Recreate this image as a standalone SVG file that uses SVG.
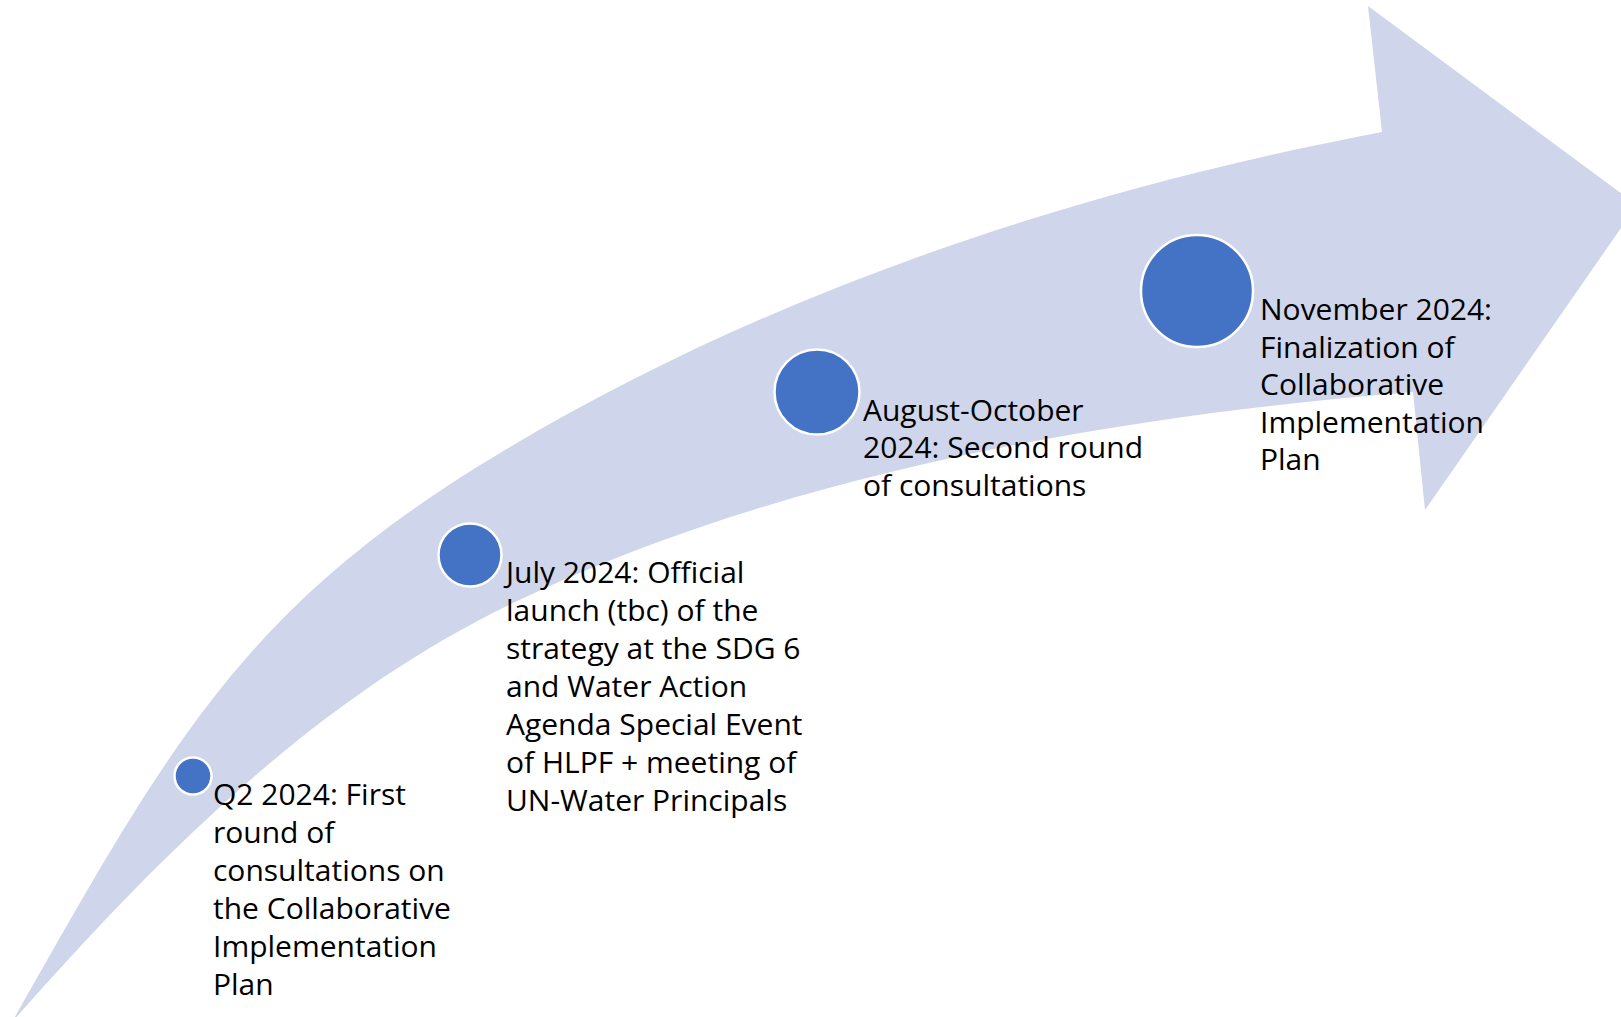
<svg xmlns="http://www.w3.org/2000/svg" width="1621" height="1017" viewBox="0 0 1621 1017">
<style>
.band{fill:#CFD5EA;stroke:none}
.dot{fill:#4472C4;stroke:#FFFFFF;stroke-width:2.5}
.lbl{font-family:"Open Sans","Liberation Sans",sans-serif;font-size:30px;fill:#000000}
</style>
<rect x="0" y="0" width="1621" height="1017" fill="#FFFFFF"/>
<g id="arrow">
<path class="band" d="M 12 1022 C 170.1 743.7, 242.7 607.4, 500 453 C 768.4 291.9, 1074.5 190.4, 1382 132 L 1368 6 L 1637 205 L 1425 510 L 1413 392 C 1114 415.9, 783.5 473.2, 513 603 C 314.6 698.2, 157.8 857.3, 12 1022 Z"/>
</g>
<g id="connectors"></g>
<g id="node-q2">
<circle class="dot" cx="193" cy="776" r="18.5"/>
<text class="lbl"><tspan x="213" y="805">Q2 2024: First</tspan><tspan x="213" y="843">round of</tspan><tspan x="213" y="881">consultations on</tspan><tspan x="213" y="919">the Collaborative</tspan><tspan x="213" y="957">Implementation</tspan><tspan x="213" y="995">Plan</tspan></text>
</g>
<g id="node-july">
<circle class="dot" cx="470" cy="555" r="31.5"/>
<text class="lbl"><tspan x="506" y="583">July 2024: Official</tspan><tspan x="506" y="621">launch (tbc) of the</tspan><tspan x="506" y="659">strategy at the SDG 6</tspan><tspan x="506" y="697">and Water Action</tspan><tspan x="506" y="735">Agenda Special Event</tspan><tspan x="506" y="773">of HLPF + meeting of</tspan><tspan x="506" y="811">UN-Water Principals</tspan></text>
</g>
<g id="node-aug">
<circle class="dot" cx="817" cy="392" r="42.5"/>
<text class="lbl"><tspan x="863" y="421">August-October</tspan><tspan x="863" y="458">2024: Second round</tspan><tspan x="863" y="496">of consultations</tspan></text>
</g>
<g id="node-nov">
<circle class="dot" cx="1197" cy="291" r="56"/>
<text class="lbl"><tspan x="1260" y="320">November 2024:</tspan><tspan x="1260" y="357.5">Finalization of</tspan><tspan x="1260" y="395">Collaborative</tspan><tspan x="1260" y="432.5">Implementation</tspan><tspan x="1260" y="470">Plan</tspan></text>
</g>
</svg>
